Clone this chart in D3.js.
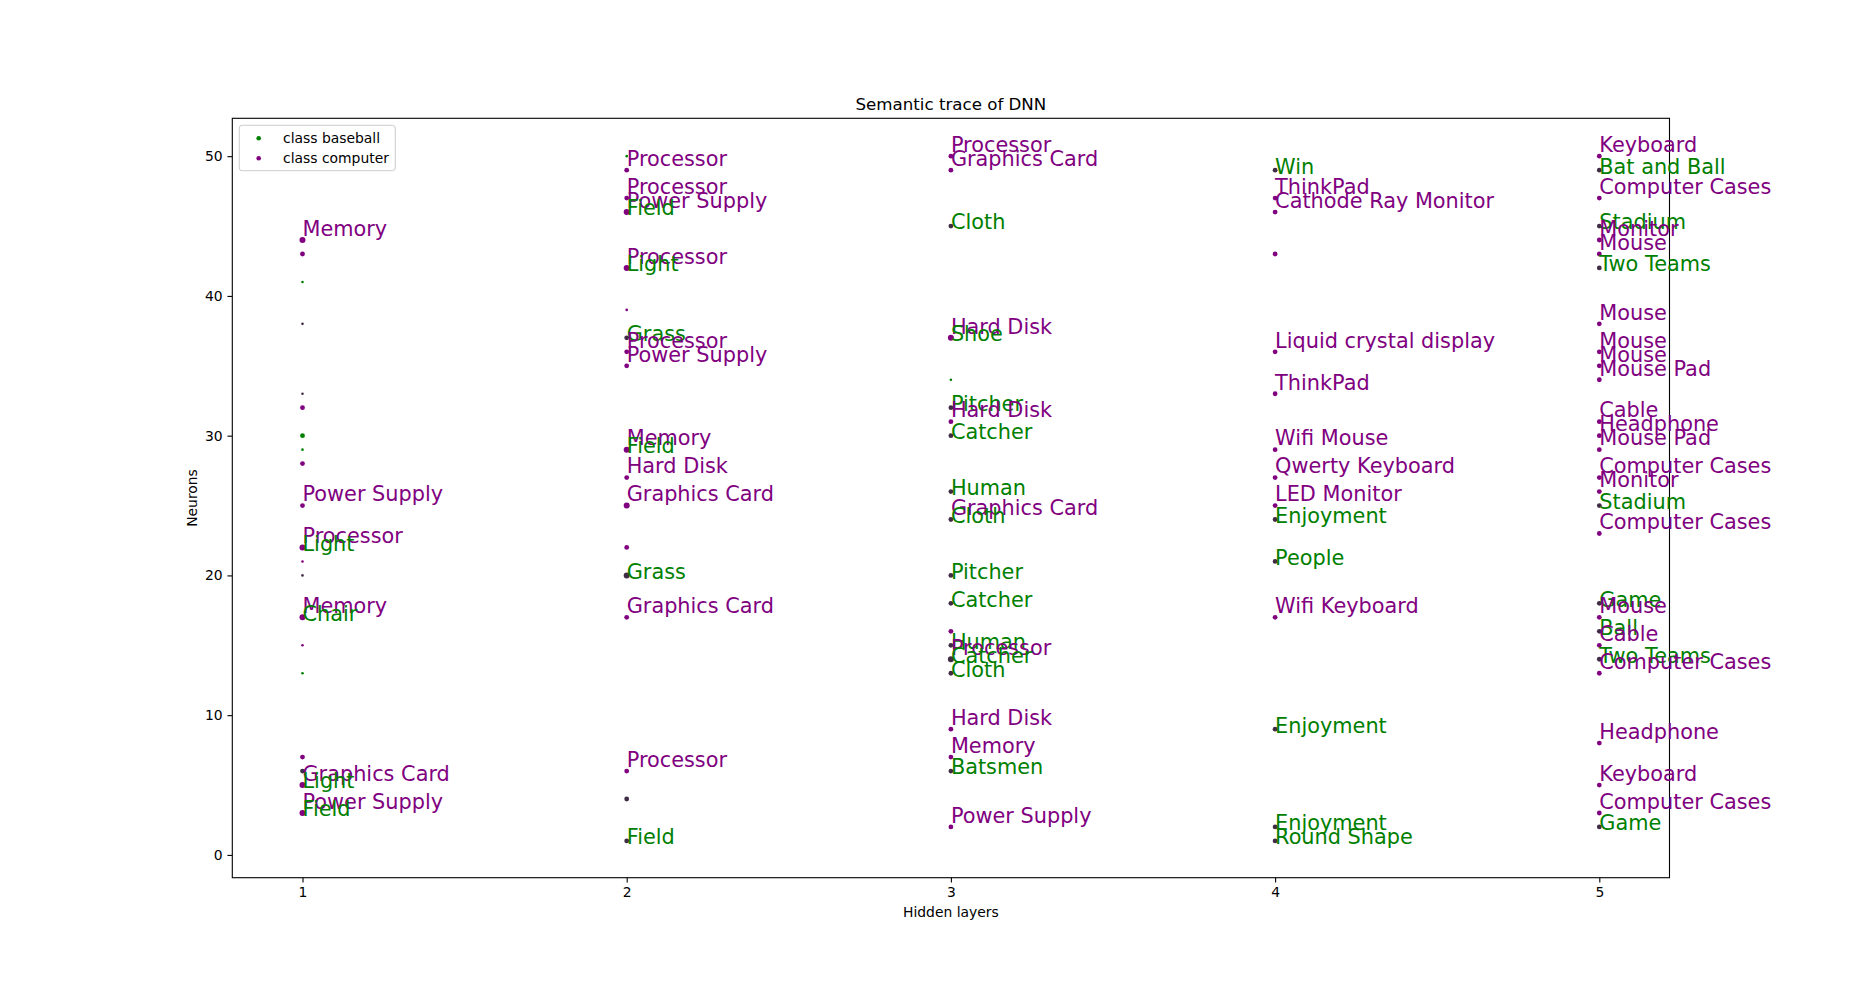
<!DOCTYPE html>
<html>
<head>
<meta charset="utf-8">
<script src="https://cdn.jsdelivr.net/npm/d3@7"></script>
<style>
  html, body { margin: 0; padding: 0; background: #ffffff; }
  svg { display: block; }
  text { font-family: "DejaVu Sans", sans-serif; }
</style>
</head>
<body>
<svg id="chart" width="1855" height="986"></svg>
<script>
// ---------------- DATA ----------------
const layers = [1, 2, 3, 4, 5];
const xTicks = [1, 2, 3, 4, 5];
const yTicks = [0, 10, 20, 30, 40, 50];
const classNames = { b: "class baseball", c: "class computer" };

// dots: [neuron, class (b = baseball, c = computer, m = both), strength 1..3]
const dotsLayer1 = [
  [44,"c",3],[43,"c",2],[41,"b",1],[38,"m",1],[33,"m",1],[32,"c",2],[30,"b",2],[29,"b",1],
  [28,"c",2],[25,"c",2],[22,"c",3],[21,"c",1],[20,"m",1],[17,"c",3],[15,"c",1],[13,"b",1],
  [7,"c",2],[6,"m",2],[5,"c",3],[3,"c",3]
];
const dotsLayer2 = [
  [50,"b",1],[49,"c",2],[47,"c",2],[46,"c",3],[42,"c",3],[39,"c",1],[37,"m",2],[36,"c",2],
  [35,"c",2],[29,"c",3],[27,"c",2],[25,"c",3],[22,"c",2],[20,"m",3],[17,"c",2],[6,"c",2],
  [4,"m",2],[1,"m",2]
];
const dotsLayer3 = [
  [50,"c",2],[49,"c",2],[45,"m",2],[37,"c",3],[34,"b",1],[32,"m",2],[31,"c",2],[30,"m",2],
  [26,"m",2],[24,"m",2],[20,"m",2],[18,"m",2],[16,"c",2],[15,"m",2],[14,"m",3],[13,"m",2],
  [9,"c",2],[7,"c",2],[6,"m",2],[2,"c",2]
];
const dotsLayer4 = [
  [49,"m",2],[47,"c",2],[46,"c",2],[43,"c",2],[36,"c",2],[33,"c",2],[29,"c",2],[27,"c",2],
  [25,"c",2],[24,"m",2],[21,"m",2],[17,"c",2],[9,"m",2],[2,"m",2],[1,"m",2]
];
const dotsLayer5 = [
  [50,"c",2],[49,"m",2],[47,"c",2],[45,"m",2],[44,"c",2],[43,"c",2],[42,"m",2],[38,"c",2],
  [36,"c",2],[35,"c",2],[34,"c",2],[31,"c",2],[30,"c",2],[29,"c",2],[27,"c",2],[26,"c",2],
  [25,"m",2],[23,"c",2],[18,"m",2],[17,"c",2],[16,"m",2],[15,"c",2],[14,"m",2],[13,"c",2],
  [8,"c",2],[5,"c",2],[3,"c",2],[2,"m",2]
];

// labels: [neuron, concept, class]
const labelsLayer1 = [
  [44,"Memory","c"],[25,"Power Supply","c"],[22,"Processor","c"],[22,"Light","b"],
  [17,"Memory","c"],[17,"Chair","b"],[5,"Graphics Card","c"],[5,"Light","b"],
  [3,"Power Supply","c"],[3,"Field","b"]
];
const labelsLayer2 = [
  [49,"Processor","c"],[47,"Processor","c"],[46,"Power Supply","c"],[46,"Field","b"],
  [42,"Processor","c"],[42,"Light","b"],[37,"Grass","b"],[36,"Processor","c"],
  [35,"Power Supply","c"],[29,"Memory","c"],[29,"Field","b"],[27,"Hard Disk","c"],
  [25,"Graphics Card","c"],[20,"Grass","b"],[17,"Graphics Card","c"],[6,"Processor","c"],
  [1,"Field","b"]
];
const labelsLayer3 = [
  [50,"Processor","c"],[49,"Graphics Card","c"],[45,"Cloth","b"],[37,"Hard Disk","c"],
  [37,"Shoe","b"],[32,"Pitcher","b"],[31,"Hard Disk","c"],[30,"Catcher","b"],
  [26,"Human","b"],[24,"Graphics Card","c"],[24,"Cloth","b"],[20,"Pitcher","b"],
  [18,"Catcher","b"],[15,"Human","b"],[14,"Processor","c"],[14,"Catcher","b"],
  [13,"Cloth","b"],[9,"Hard Disk","c"],[7,"Memory","c"],[6,"Batsmen","b"],
  [2,"Power Supply","c"]
];
const labelsLayer4 = [
  [49,"Win","b"],[47,"ThinkPad","c"],[46,"Cathode Ray Monitor","c"],
  [36,"Liquid crystal display","c"],[33,"ThinkPad","c"],[29,"Wifi Mouse","c"],
  [27,"Qwerty Keyboard","c"],[25,"LED Monitor","c"],[24,"Enjoyment","b"],
  [21,"People","b"],[17,"Wifi Keyboard","c"],[9,"Enjoyment","b"],[2,"Enjoyment","b"],
  [1,"Round Shape","b"]
];
const labelsLayer5 = [
  [50,"Keyboard","c"],[49,"Bat and Ball","b"],[47,"Computer Cases","c"],[45,"Stadium","b"],
  [44,"Monitor","c"],[43,"Mouse","c"],[42,"Two Teams","b"],[38,"Mouse","c"],
  [36,"Mouse","c"],[35,"Mouse","c"],[34,"Mouse Pad","c"],[31,"Cable","c"],
  [30,"Headphone","c"],[29,"Mouse Pad","c"],[27,"Computer Cases","c"],[26,"Monitor","c"],
  [25,"Stadium","b"],[23,"Computer Cases","c"],[18,"Game","b"],[17,"Mouse","c"],
  [16,"Ball","b"],[15,"Cable","c"],[14,"Two Teams","b"],[13,"Computer Cases","c"],
  [8,"Headphone","c"],[5,"Keyboard","c"],[3,"Computer Cases","c"],[2,"Game","b"]
];

const dotsByLayer = [dotsLayer1, dotsLayer2, dotsLayer3, dotsLayer4, dotsLayer5];
const labelsByLayer = [labelsLayer1, labelsLayer2, labelsLayer3, labelsLayer4, labelsLayer5];

// ---------------- LAYOUT / STYLE ----------------
const plot = { left: 232.3, right: 1669.5, top: 118.3, bottom: 877.7 };
const fontTick = 13.9, fontLabel = 20.83, fontTitle = 16.67;

const svg = d3.select("#chart");

const x = d3.scaleLinear().domain([0.7835, 5.2165]).range([plot.left, plot.right]);
const y = d3.scaleLinear().domain([-1.63, 52.71]).range([plot.bottom, plot.top]);

const color = d3.scaleOrdinal().domain(["b", "c", "m"]).range(["#008000", "#800080", "#402c44"]);
const radius = d3.scaleOrdinal().domain([1, 2, 3]).range([1.3, 2.4, 3.0]);
const labelColor = d3.scaleOrdinal().domain(["b", "c"]).range(["#008000", "#800080"]);
const labelShift = { b: 3.4, c: -4.2 };

// flatten
const dots = [];
dotsByLayer.forEach((arr, i) => arr.forEach(d => dots.push({ layer: layers[i], n: d[0], cls: d[1], s: d[2] })));
const labels = [];
labelsByLayer.forEach((arr, i) => {
  arr.map(d => ({ layer: layers[i], n: d[0], text: d[1], cls: d[2] }))
    .sort((a, b) => (b.n - a.n) || ((a.cls === "c" ? 0 : 1) - (b.cls === "c" ? 0 : 1)))
    .forEach(d => labels.push(d));
});

// axes
const xAxis = d3.axisBottom(x).tickValues(xTicks).tickFormat(d3.format("d"))
  .tickSize(4.86).tickPadding(4.86).tickSizeOuter(0);
const yAxis = d3.axisLeft(y).tickValues(yTicks).tickFormat(d3.format("d"))
  .tickSize(4.86).tickPadding(4.86).tickSizeOuter(0);

const gx = svg.append("g").attr("transform", `translate(0,${plot.bottom})`).call(xAxis);
const gy = svg.append("g").attr("transform", `translate(${plot.left},0)`).call(yAxis);
[gx, gy].forEach(g => {
  g.select(".domain").remove();
  g.selectAll(".tick line").attr("stroke", "#000").attr("stroke-width", 1.1);
  g.selectAll(".tick text").attr("fill", "#000").style("font-size", fontTick + "px")
    .style("font-family", "'DejaVu Sans', sans-serif");
});

// dots
svg.append("g").selectAll("circle").data(dots).join("circle")
  .attr("cx", d => x(d.layer))
  .attr("cy", d => y(d.n))
  .attr("r", d => radius(d.s))
  .attr("fill", d => color(d.cls));

// frame
svg.append("rect")
  .attr("x", plot.left).attr("y", plot.top)
  .attr("width", plot.right - plot.left).attr("height", plot.bottom - plot.top)
  .attr("fill", "none").attr("stroke", "#000").attr("stroke-width", 1.1);

// labels
svg.append("g").selectAll("text").data(labels).join("text")
  .attr("x", d => x(d.layer))
  .attr("y", d => y(d.n) + labelShift[d.cls])
  .attr("fill", d => labelColor(d.cls))
  .style("font-size", fontLabel + "px")
  .text(d => d.text);

// title & axis labels
const cx = (plot.left + plot.right) / 2;
svg.append("text").attr("x", cx).attr("y", 110).attr("text-anchor", "middle")
  .style("font-size", fontTitle + "px").attr("fill", "#000").text("Semantic trace of DNN");
svg.append("text").attr("x", cx).attr("y", 917).attr("text-anchor", "middle")
  .style("font-size", fontTick + "px").attr("fill", "#000").text("Hidden layers");
svg.append("text").attr("transform", `translate(196.5,${(plot.top + plot.bottom) / 2}) rotate(-90)`)
  .attr("text-anchor", "middle").style("font-size", fontTick + "px").attr("fill", "#000").text("Neurons");

// legend
const lg = svg.append("g");
lg.append("rect").attr("x", 239.3).attr("y", 125.3).attr("width", 156).attr("height", 45.4)
  .attr("rx", 2.8).attr("fill", "#fff").attr("fill-opacity", 0.8)
  .attr("stroke", "#cccccc").attr("stroke-width", 1);
["b", "c"].forEach((k, i) => {
  const cy = 138.3 + i * 20;
  lg.append("circle").attr("cx", 258.7).attr("cy", cy).attr("r", 2.3).attr("fill", labelColor(k));
  lg.append("text").attr("x", 283).attr("y", cy + 4.7).style("font-size", fontTick + "px")
    .attr("fill", "#000").text(classNames[k]);
});
</script>
</body>
</html>
